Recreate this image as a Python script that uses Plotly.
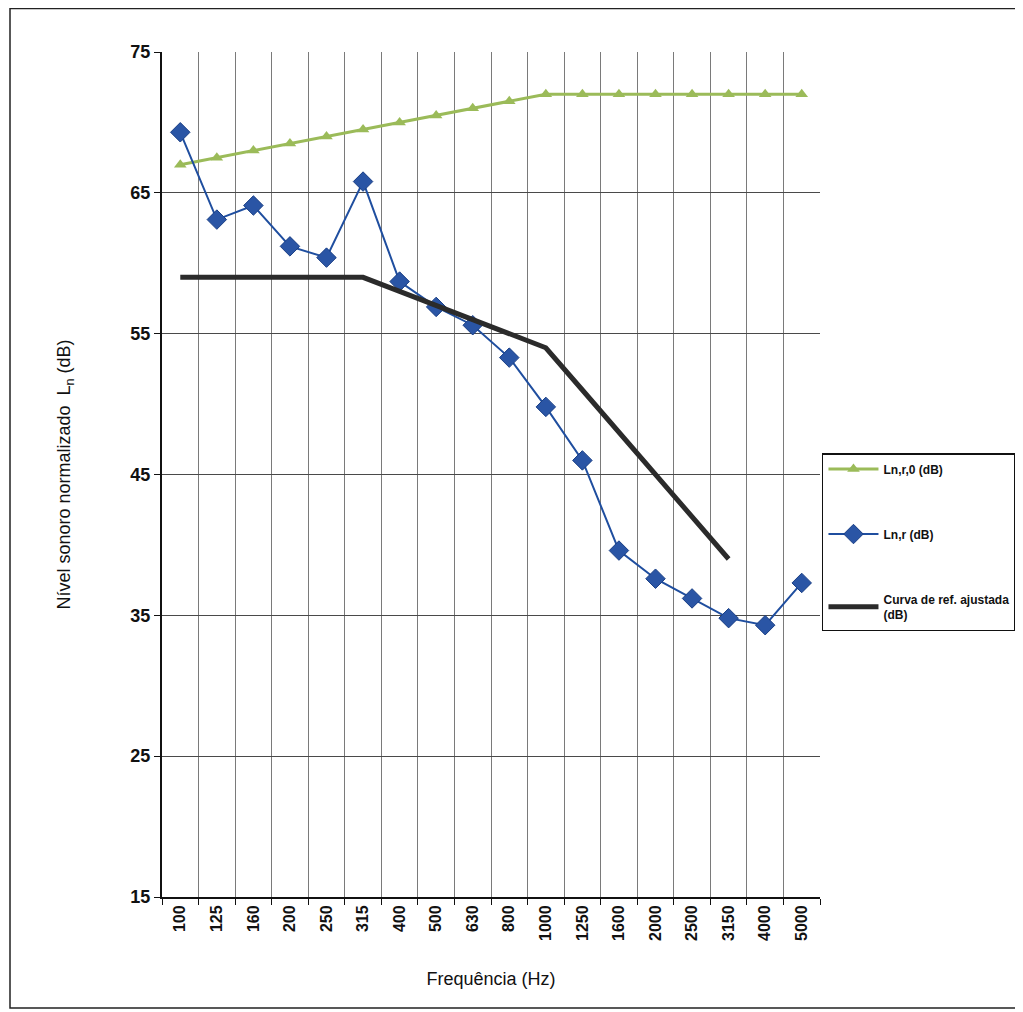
import plotly.graph_objects as go

freqs = ["100", "125", "160", "200", "250", "315", "400", "500", "630", "800",
         "1000", "1250", "1600", "2000", "2500", "3150", "4000", "5000"]
ln_r0 = [67, 67.5, 68, 68.5, 69, 69.5, 70, 70.5, 71, 71.5,
         72, 72, 72, 72, 72, 72, 72, 72]
ln_r = [69.3, 63.1, 64.1, 61.2, 60.4, 65.8, 58.7, 56.9, 55.6, 53.3,
        49.8, 46.0, 39.6, 37.6, 36.2, 34.8, 34.3, 37.3]
ref_freqs = freqs[:16]
ref_adj = [59, 59, 59, 59, 59, 59, 58, 57, 56, 55, 54, 51, 48, 45, 42, 39]
y_ticks = [15, 25, 35, 45, 55, 65, 75]

FONT = "Liberation Sans, Arial, sans-serif"

fig = go.Figure()
fig.add_trace(go.Scatter(
    x=freqs, y=ln_r0, mode="lines+markers", name="<b>Ln,r,0 (dB)</b>",
    line=dict(color="#9bbb59", width=3),
    marker=dict(symbol="triangle-up", size=11, color="#9bbb59"),
    legendgroup="a"))
fig.add_trace(go.Scatter(
    x=freqs, y=ln_r, mode="lines+markers", name="<b>Ln,r (dB)</b>",
    line=dict(color="#1f4e9f", width=2),
    marker=dict(symbol="diamond", size=15, color="#2a55a5",
                line=dict(color="#1a3f85", width=1)),
    legendgroup="b"))
fig.add_trace(go.Scatter(
    x=ref_freqs, y=ref_adj, mode="lines",
    name="<b>Curva de ref. ajustada<br>(dB)</b>",
    line=dict(color="#2b2b2b", width=5),
    legendgroup="c"))

fig.update_layout(
    width=1023, height=1012,
    margin=dict(l=154, r=211, t=44, b=123),
    paper_bgcolor="white", plot_bgcolor="white",
    font=dict(family=FONT, color="#111"),
    showlegend=True,
    legend=dict(x=1.003, y=0.5254, xanchor="left", yanchor="top",
                xref="paper", yref="paper",
                bordercolor="#111", borderwidth=1.5, bgcolor="white",
                font=dict(size=12, family=FONT, color="#111"),
                tracegroupgap=46, itemwidth=50),
    shapes=[dict(type="rect", xref="paper", yref="paper",
                 x0=-0.231, x1=1.4, y0=-0.1314, y1=1.0515,
                 line=dict(color="#222", width=1.5), layer="below")],
)
fig.update_xaxes(
    type="category", categoryorder="array", categoryarray=freqs,
    tickson="boundaries", ticks="outside", ticklen=6, tickcolor="#111",
    tickangle=-90, tickfont=dict(size=16, family=FONT, color="#111", weight="bold"),
    showgrid=True, gridcolor="#7a7a7a", gridwidth=1,
    showline=True, linecolor="#111", linewidth=2, mirror=False,
    title=dict(text="Frequência (Hz)", font=dict(size=18, family=FONT, color="#111"),
               standoff=32),
    range=[-0.5, 17.5])
fig.update_yaxes(
    range=[15, 75], tickvals=y_ticks, ticks="outside", ticklen=6, tickcolor="#111",
    tickfont=dict(size=18, family=FONT, color="#111", weight="bold"),
    showgrid=True, gridcolor="#4a4a4a", gridwidth=1, zeroline=False,
    showline=True, linecolor="#111", linewidth=2,
    title=dict(text="Nível sonoro normalizado  L<sub>n</sub> (dB)",
               font=dict(size=18, family=FONT, color="#111"), standoff=55))

fig.write_html("out.html")
